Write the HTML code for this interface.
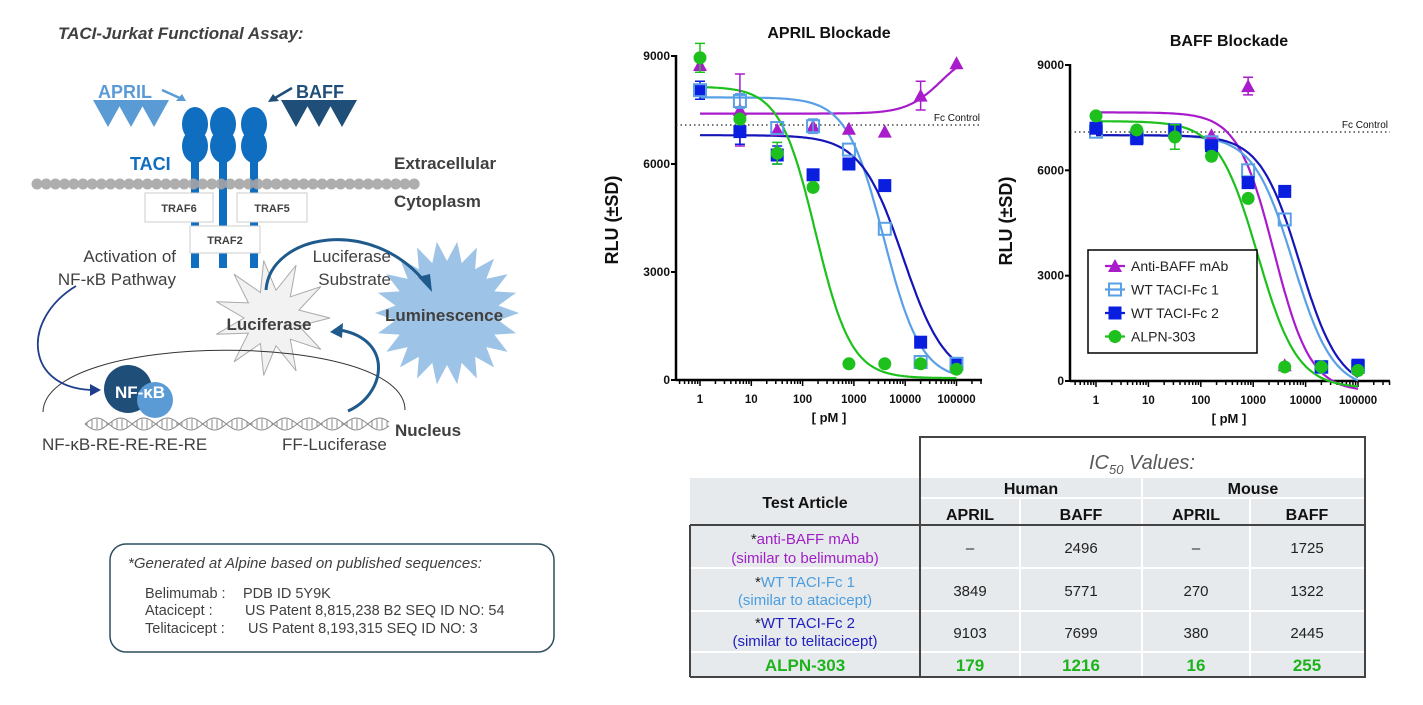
<!DOCTYPE html>
<html><head><meta charset="utf-8"><style>
html,body{margin:0;padding:0;background:#fff;}
body{width:1423px;height:700px;overflow:hidden;font-family:"Liberation Sans",Arial,sans-serif;}
</style></head><body>
<svg id="s" width="1423" height="700" viewBox="0 0 1423 700" xmlns="http://www.w3.org/2000/svg" font-family="Liberation Sans, Arial, sans-serif">
<rect width="1423" height="700" fill="#fff"/>
<text x="58" y="39" font-size="17" font-weight="bold" font-style="italic" fill="#404040">TACI-Jurkat Functional Assay:</text>
<text x="98" y="98" font-size="18" font-weight="bold" fill="#5b9bd5">APRIL</text>
<path d="M93 100 L123 100 L108 127 Z M116 100 L146 100 L131 127 Z M139 100 L169 100 L154 127 Z" fill="#5b9bd5"/>
<line x1="162" y1="90" x2="182" y2="99" stroke="#5b9bd5" stroke-width="2.5"/>
<path d="M186 101 L176 101 L182 94 Z" fill="#5b9bd5"/>
<text x="296" y="98" font-size="18" font-weight="bold" fill="#1f4e79">BAFF</text>
<path d="M281 100 L311 100 L296 127 Z M304 100 L334 100 L319 127 Z M327 100 L357 100 L342 127 Z" fill="#1f4e79"/>
<line x1="292" y1="88" x2="275" y2="98" stroke="#1f4e79" stroke-width="2.5"/>
<path d="M268 102 L279 101 L273 94 Z" fill="#1f4e79"/>
<g fill="#0f6ebf">
<rect x="191" y="150" width="8" height="118"/><rect x="219" y="150" width="8" height="118"/><rect x="250" y="150" width="8" height="118"/>
<ellipse cx="195" cy="124" rx="13" ry="17"/><ellipse cx="195" cy="146" rx="13" ry="17"/>
<ellipse cx="223" cy="124" rx="13" ry="17"/><ellipse cx="223" cy="146" rx="13" ry="17"/>
<ellipse cx="254" cy="124" rx="13" ry="17"/><ellipse cx="254" cy="146" rx="13" ry="17"/>
</g>
<text x="130" y="170" font-size="18" font-weight="bold" fill="#0f6ebf">TACI</text>
<text x="394" y="169" font-size="17" font-weight="bold" fill="#404040">Extracellular</text>
<text x="394" y="207" font-size="17" font-weight="bold" fill="#404040">Cytoplasm</text>
<g id="mem" fill="#a6a6a6" opacity="0.9"></g>
<rect x="145" y="193" width="68" height="29" fill="#fff" stroke="#ccc"/>
<rect x="237" y="193" width="70" height="29" fill="#fff" stroke="#ccc"/>
<rect x="190" y="226" width="70" height="27" fill="#fff" stroke="#ccc"/>
<text x="179" y="212" font-size="11" font-weight="bold" fill="#404040" text-anchor="middle">TRAF6</text>
<text x="272" y="212" font-size="11" font-weight="bold" fill="#404040" text-anchor="middle">TRAF5</text>
<text x="225" y="244" font-size="11" font-weight="bold" fill="#404040" text-anchor="middle">TRAF2</text>
<text x="176" y="262" font-size="17" fill="#404040" text-anchor="end">Activation of</text>
<text x="176" y="285" font-size="17" fill="#404040" text-anchor="end">NF-κB Pathway</text>
<text x="391" y="262" font-size="17" fill="#404040" text-anchor="end">Luciferase</text>
<text x="391" y="285" font-size="17" fill="#404040" text-anchor="end">Substrate</text>
<path id="lum" fill="#9dc3e6"/>
<path id="luc" fill="#f2f2f2" stroke="#aaa"/>
<path d="M266 290 C270 235 370 215 425 282" fill="none" stroke="#1f5a8c" stroke-width="3"/>
<path d="M418 277 L432 292 L430 274 Z" fill="#1f5a8c"/>
<text x="444" y="321" font-size="17" font-weight="bold" fill="#404040" text-anchor="middle">Luminescence</text>
<text x="269" y="330" font-size="17" font-weight="bold" fill="#404040" text-anchor="middle">Luciferase</text>
<path d="M43 412 C45 330 405 330 405 410" fill="none" stroke="#333" stroke-width="1"/>
<path d="M76 286 C20 320 25 390 95 390" fill="none" stroke="#1f3f8c" stroke-width="1.8"/>
<path d="M101 390 L90 384 L90 396 Z" fill="#1f3f8c"/>
<path d="M348 411 C385 395 395 340 340 330" fill="none" stroke="#1f5a8c" stroke-width="3"/>
<path d="M330 332 L343 323 L342 338 Z" fill="#1f5a8c"/>
<g id="dna" stroke="#888" fill="none" stroke-width="1"></g>
<circle cx="128" cy="389" r="24" fill="#1f4e79"/>
<circle cx="155" cy="400" r="18" fill="#5b9bd5"/>
<text x="140" y="398" font-size="17" font-weight="bold" fill="#fff" text-anchor="middle">NF-κB</text>
<text x="42" y="450" font-size="17" fill="#404040">NF-κB-RE-RE-RE-RE</text>
<text x="282" y="450" font-size="17" fill="#404040">FF-Luciferase</text>
<text x="395" y="436" font-size="17" font-weight="bold" fill="#404040">Nucleus</text>
<rect x="110" y="544" width="444" height="108" rx="16" fill="#fff" stroke="#2f4f5f" stroke-width="1.5"/>
<text x="128" y="568" font-size="15" font-style="italic" fill="#404040">*Generated at Alpine based on published sequences:</text>
<g font-size="14.5" fill="#404040">
<text x="145" y="598">Belimumab :</text><text x="243" y="598">PDB ID 5Y9K</text>
<text x="145" y="615">Atacicept :</text><text x="245" y="615">US Patent 8,815,238 B2 SEQ ID NO: 54</text>
<text x="145" y="633">Telitacicept :</text><text x="248" y="633">US Patent 8,193,315 SEQ ID NO: 3</text>
</g>
<g id="c1"></g><g id="c2"></g>
<rect x="690" y="478" width="675" height="199" fill="#e7eaec"/>
<g stroke="#fff" stroke-width="2">
<line x1="920" y1="498" x2="1365" y2="498"/>
<line x1="690" y1="568" x2="1365" y2="568"/><line x1="690" y1="611" x2="1365" y2="611"/><line x1="690" y1="652" x2="1365" y2="652"/>
<line x1="1020" y1="498" x2="1020" y2="677"/><line x1="1142" y1="478" x2="1142" y2="677"/><line x1="1250" y1="498" x2="1250" y2="677"/>
</g>
<g stroke="#444" stroke-width="2" fill="none">
<rect x="920" y="437" width="445" height="240"/>
<line x1="690" y1="525" x2="1365" y2="525"/>
<line x1="690" y1="525" x2="690" y2="677"/><line x1="690" y1="677" x2="920" y2="677"/>
</g>
<text x="1142" y="469" font-size="20" font-style="italic" fill="#595959" text-anchor="middle">IC<tspan font-size="13" dy="5">50</tspan><tspan dy="-5"> Values:</tspan></text>
<g font-size="16" font-weight="bold" fill="#111" text-anchor="middle">
<text x="805" y="508">Test Article</text>
<text x="1031" y="494">Human</text><text x="1253" y="494">Mouse</text>
<text x="970" y="520">APRIL</text><text x="1081" y="520">BAFF</text><text x="1196" y="520">APRIL</text><text x="1307" y="520">BAFF</text>
</g>
<g font-size="15" text-anchor="middle" fill="#222">
<text x="805" y="544"><tspan>*</tspan><tspan fill="#a020c8">anti-BAFF mAb</tspan></text>
<text x="805" y="563" fill="#a020c8">(similar to belimumab)</text>
<text x="805" y="587"><tspan>*</tspan><tspan fill="#4a9de0">WT TACI-Fc 1</tspan></text>
<text x="805" y="605" fill="#4a9de0">(similar to atacicept)</text>
<text x="805" y="628"><tspan>*</tspan><tspan fill="#2020c0">WT TACI-Fc 2</tspan></text>
<text x="805" y="646" fill="#2020c0">(similar to telitacicept)</text>
<text x="970" y="553">–</text><text x="1081" y="553">2496</text><text x="1196" y="553">–</text><text x="1307" y="553">1725</text>
<text x="970" y="596">3849</text><text x="1081" y="596">5771</text><text x="1196" y="596">270</text><text x="1307" y="596">1322</text>
<text x="970" y="638">9103</text><text x="1081" y="638">7699</text><text x="1196" y="638">380</text><text x="1307" y="638">2445</text>
</g>
<g font-size="17" font-weight="bold" text-anchor="middle" fill="#1db31d">
<text x="805" y="671">ALPN-303</text><text x="970" y="671">179</text><text x="1081" y="671">1216</text><text x="1196" y="671">16</text><text x="1307" y="671">255</text>
</g>
</svg>
<script>
var NS="http://www.w3.org/2000/svg";
function el(p,t,a,txt){var e=document.createElementNS(NS,t);for(var k in a)e.setAttribute(k,a[k]);if(txt!=null)e.textContent=txt;p.appendChild(e);return e;}
var m=document.getElementById('mem');
for(var x=37;x<=416;x+=9.2)el(m,'circle',{cx:x,cy:184,r:5.5});
function star(cx,cy,r1,r2,n){var d='';for(var i=0;i<2*n;i++){var r=i%2?r2:r1,a=Math.PI*i/n;d+=(i?'L':'M')+(cx+r*Math.cos(a)).toFixed(1)+' '+(cy+r*Math.sin(a)).toFixed(1);}return d+'Z';}
document.getElementById('lum').setAttribute('d',star(447,313,72,52,22));
document.getElementById('luc').setAttribute('d',star(272,318,58,28,11));
var dn=document.getElementById('dna'),d1='',d2='';
for(var x=85;x<=390;x+=2){var y1=424+6*Math.sin((x-85)/7.5),y2=424-6*Math.sin((x-85)/7.5);d1+=(x==85?'M':'L')+x+' '+y1.toFixed(1);d2+=(x==85?'M':'L')+x+' '+y2.toFixed(1);}
el(dn,'path',{d:d1});el(dn,'path',{d:d2});
for(var x=87;x<=390;x+=5)el(dn,'line',{x1:x,x2:x,y1:424-5*Math.abs(Math.sin((x-85)/7.5)),y2:424+5*Math.abs(Math.sin((x-85)/7.5))});

var PUR="#a81ccc",LB="#5aa0e6",DB="#0a1ee0",GR="#1ec01e";
var DBL="#1515b8";
function chart(g,C){
 var px=function(x){return C.x1+C.dec*Math.log10(x);},py=function(v){return C.y0-v*C.sy;};
 el(g,'text',{x:C.tx,y:C.ty,'font-size':16,'font-weight':'bold','text-anchor':'middle',fill:'#111'},C.title);
 el(g,'line',{x1:C.ax,y1:py(9000)-1,x2:C.ax,y2:C.y0,stroke:'#000','stroke-width':2.5});
 el(g,'line',{x1:C.ax,y1:C.y0,x2:C.xe,y2:C.y0,stroke:'#000','stroke-width':2.5});
 [0,3000,6000,9000].forEach(function(v){el(g,'line',{x1:C.ax-5,x2:C.ax,y1:py(v),y2:py(v),stroke:'#000','stroke-width':2});
  el(g,'text',{x:C.ax-6,y:py(v)+4,'font-size':12,'font-weight':'bold','text-anchor':'end',fill:'#111'},String(v));});
 for(var e=-1;e<=5;e++)for(var k=1;k<10;k++){var xx=px(k*Math.pow(10,e));if(xx<C.ax+3||xx>C.xe)continue;
  el(g,'line',{x1:xx,x2:xx,y1:C.y0,y2:C.y0+(k==1?6:4),stroke:'#000','stroke-width':1.5});}
 ['1','10','100','1000','10000','100000'].forEach(function(s,i){el(g,'text',{x:px(Math.pow(10,i)),y:C.y0+23,'font-size':11.5,'font-weight':'bold','text-anchor':'middle',fill:'#111'},s);});
 el(g,'text',{x:C.tx,y:C.y0+42,'font-size':13,'font-weight':'bold','text-anchor':'middle',fill:'#111'},'[ pM ]');
 el(g,'text',{transform:'translate('+(C.ax-58)+','+(C.y0-160)+') rotate(-90)','font-size':18,'font-weight':'bold','text-anchor':'middle',fill:'#111'},'RLU (±SD)');
 el(g,'line',{x1:C.ax,x2:C.xe,y1:C.fc,y2:C.fc,stroke:'#222','stroke-width':1.2,'stroke-dasharray':'1.5,3'});
 el(g,'text',{x:C.xe-2,y:C.fc-4,'font-size':10,'text-anchor':'end',fill:'#111'},'Fc Control');
 C.curves.forEach(function(c){var d='';for(var i=0;i<=200;i++){var x=Math.pow(10,5*i/200),v=c.f(x);d+=(i?'L':'M')+px(x).toFixed(1)+' '+py(v).toFixed(1);}
  el(g,'path',{d:d,fill:'none',stroke:c.col,'stroke-width':2.2});});
 C.pts.forEach(function(s){s.d.forEach(function(p){var X=px(p[0]),Y=py(p[1]);
  if(p[2]){el(g,'path',{d:'M'+X+' '+py(p[1]-p[2])+'V'+py(p[1]+p[2])+'M'+(X-5)+' '+py(p[1]+p[2])+'h10M'+(X-5)+' '+py(p[1]-p[2])+'h10',stroke:s.col,'stroke-width':1.5,fill:'none'});}
  marker(g,s.m,X,Y,s.col);});});
}
function marker(g,m,X,Y,col){
 if(m=='t')el(g,'path',{d:'M'+X+' '+(Y-7)+'L'+(X+7)+' '+(Y+6)+'L'+(X-7)+' '+(Y+6)+'Z',fill:col});
 if(m=='o')el(g,'rect',{x:X-6,y:Y-6,width:12,height:12,fill:'none',stroke:col,'stroke-width':2});
 if(m=='s')el(g,'rect',{x:X-6.5,y:Y-6.5,width:13,height:13,fill:col});
 if(m=='c')el(g,'circle',{cx:X,cy:Y,r:6.5,fill:col});
}
function L4(t,b,ic,h){return function(x){return b+(t-b)/(1+Math.pow(x/ic,h));};}
chart(document.getElementById('c1'),{x1:700,dec:51.3,y0:380,sy:324/9000,ax:676,xe:982,tx:829,ty:38,title:'APRIL Blockade',fc:125,
 curves:[{col:PUR,f:function(x){return 7400+1800/(1+Math.pow(50000/x,1.3));}},{col:LB,f:L4(7850,0,3849,1.2)},{col:DBL,f:L4(6800,0,9103,1.05)},{col:GR,f:L4(8150,50,179,1.25)}],
 pts:[{m:'t',col:PUR,d:[[1,8750],[6,7500,1000],[32,6950],[160,7050],[800,6980],[4000,6900],[20000,7900,400],[100000,8800]]},
  {m:'s',col:DB,d:[[1,8050,250],[6,6900,350],[32,6250,250],[160,5700],[800,6000],[4000,5400],[20000,1050],[100000,450]]},
  {m:'o',col:LB,d:[[1,8050],[6,7750,200],[32,7000],[160,7050,200],[800,6400],[4000,4200],[20000,500],[100000,450]]},
  {m:'c',col:GR,d:[[1,8950,400],[6,7250],[32,6300,300],[160,5350],[800,450],[4000,450],[20000,450],[100000,300]]}]});
chart(document.getElementById('c2'),{x1:1096,dec:52.4,y0:381,sy:316/9000,ax:1070,xe:1390,tx:1229,ty:46,title:'BAFF Blockade',fc:132,
 curves:[{col:PUR,f:L4(7650,-300,2496,1.25)},{col:LB,f:L4(7000,-250,5771,1.15)},{col:DBL,f:L4(7000,-250,7699,1.15)},{col:GR,f:L4(7400,-200,1216,1.15)}],
 pts:[{m:'t',col:PUR,d:[[160,7000],[800,8400,250],[4000,450]]},
  {m:'o',col:LB,d:[[1,7100],[6,6950],[32,7100],[160,6800],[800,6000],[4000,4600],[20000,400],[100000,400]]},
  {m:'s',col:DB,d:[[1,7200],[6,6900],[32,7150,150],[160,6700],[800,5650],[4000,5400],[20000,400],[100000,450]]},
  {m:'c',col:GR,d:[[1,7550],[6,7150],[32,6950,350],[160,6400],[800,5200],[4000,400],[20000,400],[100000,300]]}]});
var g2=document.getElementById('c2');
el(g2,'rect',{x:1088,y:250,width:169,height:103,fill:'#fff',stroke:'#000','stroke-width':1.5});
[['t',PUR,'Anti-BAFF mAb'],['o',LB,'WT TACI-Fc 1'],['s',DB,'WT TACI-Fc 2'],['c',GR,'ALPN-303']].forEach(function(r,i){var y=266+23.5*i;
 el(g2,'line',{x1:1105,x2:1125,y1:y,y2:y,stroke:r[1],'stroke-width':2.2});marker(g2,r[0],1115,y,r[1]);
 el(g2,'text',{x:1131,y:y+5,'font-size':14,fill:'#222'},r[2]);});
</script>
</body></html>
